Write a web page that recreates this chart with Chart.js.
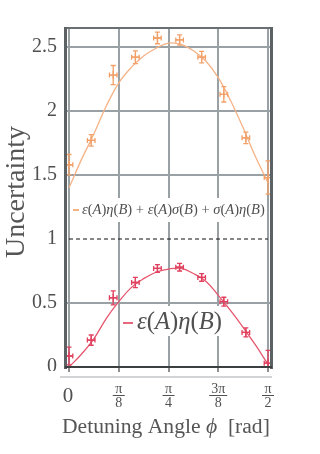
<!DOCTYPE html>
<html><head><meta charset="utf-8">
<script src="https://cdn.jsdelivr.net/npm/chart.js@4.4.1/dist/chart.umd.min.js"></script>
<style>html,body{margin:0;padding:0;background:#fff;}canvas{display:block;}</style>
</head><body>
<canvas id="c" width="320" height="454"></canvas>
<script>
// ---- data ----
const angles   = [0, 0.175, 0.349, 0.524, 0.698, 0.873, 1.047, 1.222, 1.396, 1.571];
const totalVals = [1.58, 1.77, 2.28, 2.42, 2.57, 2.555, 2.42, 2.13, 1.79, 1.48];
const totalErr  = [0.08, 0.045, 0.075, 0.05, 0.045, 0.04, 0.045, 0.06, 0.045, 0.13];
const etaVals   = [0.086, 0.21, 0.54, 0.66, 0.77, 0.78, 0.70, 0.51, 0.27, 0.03];
const etaErr    = [0.07, 0.04, 0.055, 0.04, 0.03, 0.03, 0.03, 0.035, 0.035, 0.10];
const angleErr  = 0.03;
const fitAngles = [0, 0.098, 0.196, 0.295, 0.393, 0.491, 0.589, 0.687, 0.785, 0.884, 0.982, 1.080, 1.178, 1.276, 1.374, 1.473, 1.571];
const totalFit  = [1.40, 1.62, 1.82, 2.04, 2.22, 2.34, 2.43, 2.49, 2.53, 2.52, 2.47, 2.39, 2.26, 2.08, 1.87, 1.64, 1.44];
const etaFit    = [0.00, 0.10, 0.22, 0.38, 0.51, 0.62, 0.69, 0.74, 0.765, 0.77, 0.73, 0.67, 0.56, 0.44, 0.31, 0.17, 0.02];
const xTickValues = [0, 0.3927, 0.7854, 1.1781, 1.5708];
const xTickNum = ['0', 'π', 'π', '3π', 'π'];
const xTickDen = ['', '8', '4', '8', '2'];
const yTickValues = [0, 0.5, 1, 1.5, 2, 2.5];
const yTickLabels = ['0', '0.5', '1', '1.5', '2', '2.5'];
const xTitle = [['Detuning Angle ', false], ['ϕ', true], ['  [rad]', false]];
const yTitle = 'Uncertainty';
const legendTotal = [['ε',1],['(',0],['A',1],[')',0],['η',1],['(',0],['B',1],[')',0],[' + ',0],
  ['ε',1],['(',0],['A',1],[')',0],['σ',1],['(',0],['B',1],[')',0],[' + ',0],
  ['σ',1],['(',0],['A',1],[')',0],['η',1],['(',0],['B',1],[')',0]];
const legendEta = [['ε',1],['(',0],['A',1],[')',0],['η',1],['(',0],['B',1],[')',0]];

const ORANGE = '#f2a068', ORANGE_L = '#f5b286', RED = '#e0405e', RED_L = '#e6566e';
const GRID = '#9aa1a5', TEXT = '#505050', SERIF = '"Liberation Serif", "DejaVu Serif", serif';

function segWidth(ctx, segs, size) {
  let w = 0;
  for (const [t, it] of segs) { ctx.font = (it ? 'italic ' : '') + size + 'px ' + SERIF; w += ctx.measureText(t).width; }
  return w;
}
function drawSegs(ctx, segs, x0, x1, y, baseSize) {
  const w = segWidth(ctx, segs, baseSize);
  const size = baseSize * (x1 - x0) / w;
  let x = x0;
  for (const [t, it] of segs) {
    ctx.font = (it ? 'italic ' : '') + size + 'px ' + SERIF;
    ctx.fillText(t, x, y);
    x += ctx.measureText(t).width;
  }
}

const decor = {
  id: 'decor',
  beforeDatasetsDraw(chart) {
    const ctx = chart.ctx, xs = chart.scales.x, ys = chart.scales.y;
    ctx.save();
    // legend backgrounds
    ctx.fillStyle = '#fff';
    ctx.fillRect(71, 198, 196, 24);
    ctx.fillRect(121, 306, 102, 30);
    // dashed line at 1
    ctx.strokeStyle = '#111'; ctx.lineWidth = 1.2; ctx.setLineDash([4, 3]);
    const y1 = ys.getPixelForValue(1);
    ctx.beginPath(); ctx.moveTo(xs.getPixelForValue(0), y1); ctx.lineTo(xs.getPixelForValue(1.5708), y1); ctx.stroke();
    ctx.restore();
  },
  afterDatasetsDraw(chart) {
    const ctx = chart.ctx, xs = chart.scales.x, ys = chart.scales.y, a = chart.chartArea;
    ctx.save();
    // error bars
    ctx.beginPath(); ctx.rect(a.left, a.top, a.right - a.left, a.bottom - a.top); ctx.clip();
    const series = [[totalVals, totalErr, ORANGE], [etaVals, etaErr, RED]];
    for (const [vals, errs, col] of series) {
      ctx.strokeStyle = col; ctx.lineWidth = 1.3;
      vals.forEach((v, i) => {
        const px = xs.getPixelForValue(angles[i]);
        const yt = ys.getPixelForValue(v + errs[i]), yb = ys.getPixelForValue(v - errs[i]);
        const xl = xs.getPixelForValue(angles[i] - angleErr), xr = xs.getPixelForValue(angles[i] + angleErr);
        const py = ys.getPixelForValue(v);
        ctx.beginPath();
        ctx.moveTo(px, yt); ctx.lineTo(px, yb);
        ctx.moveTo(px - 2.5, yt); ctx.lineTo(px + 2.5, yt);
        ctx.moveTo(px - 2.5, yb); ctx.lineTo(px + 2.5, yb);
        ctx.moveTo(xl, py); ctx.lineTo(xr, py);
        ctx.moveTo(xl, py - 2.5); ctx.lineTo(xl, py + 2.5);
        ctx.moveTo(xr, py - 2.5); ctx.lineTo(xr, py + 2.5);
        ctx.stroke();
      });
    }
    ctx.restore();
    ctx.save();
    // frame
    ctx.strokeStyle = '#6a7072'; ctx.lineWidth = 2;
    ctx.beginPath(); ctx.moveTo(a.left, a.top); ctx.lineTo(a.right, a.top); ctx.stroke();
    ctx.strokeStyle = '#5c6264'; ctx.lineWidth = 3;
    ctx.beginPath(); ctx.moveTo(a.left + 0.5, a.top - 1); ctx.lineTo(a.left + 0.5, a.bottom + 2);
    ctx.moveTo(a.right - 0.5, a.top - 1); ctx.lineTo(a.right - 0.5, a.bottom + 2); ctx.stroke();
    ctx.strokeStyle = '#3c3f40'; ctx.lineWidth = 2;
    ctx.beginPath(); ctx.moveTo(a.left, a.bottom); ctx.lineTo(a.right, a.bottom); ctx.stroke();
    // lower axis line
    ctx.strokeStyle = '#c4c6c7'; ctx.lineWidth = 1.5;
    ctx.beginPath(); ctx.moveTo(60, a.bottom + 10); ctx.lineTo(a.right, a.bottom + 10); ctx.stroke();
    // legends
    ctx.fillStyle = TEXT; ctx.textBaseline = 'middle'; ctx.textAlign = 'left';
    ctx.strokeStyle = ORANGE; ctx.lineWidth = 1.6;
    ctx.beginPath(); ctx.moveTo(73, 210); ctx.lineTo(79, 210); ctx.stroke();
    drawSegs(ctx, legendTotal, 82, 265, 210, 13);
    ctx.strokeStyle = RED;
    ctx.beginPath(); ctx.moveTo(123, 323); ctx.lineTo(133, 323); ctx.stroke();
    drawSegs(ctx, legendEta, 137, 222, 323, 19);
    // x tick labels
    ctx.textAlign = 'center';
    xTickValues.forEach((v, i) => {
      const px = xs.getPixelForValue(v);
      if (!xTickDen[i]) {
        ctx.font = '21px ' + SERIF; ctx.fillText(xTickNum[i], px - 1, 396);
      } else {
        ctx.font = '14px ' + SERIF;
        ctx.fillText(xTickNum[i], px, 389);
        ctx.fillText(xTickDen[i], px, 403);
        const hw = xTickNum[i].length > 1 ? 9 : 6;
        ctx.strokeStyle = TEXT; ctx.lineWidth = 1;
        ctx.beginPath(); ctx.moveTo(px - hw, 395.5); ctx.lineTo(px + hw, 395.5); ctx.stroke();
      }
    });
    // x title
    ctx.textAlign = 'left'; ctx.textBaseline = 'alphabetic'; ctx.fillStyle = '#555';
    drawSegs(ctx, xTitle, 62, 270, 433, 21);
    // y title
    ctx.save();
    ctx.translate(17, 192); ctx.rotate(-Math.PI / 2);
    ctx.textAlign = 'center'; ctx.textBaseline = 'middle';
    ctx.font = '28px ' + SERIF; ctx.fillText(yTitle, 0, 0);
    ctx.restore();
    // clip bottom of y "0" label
    ctx.fillStyle = '#fff'; ctx.fillRect(0, 371, 58, 5);
    ctx.restore();
  }
};

new Chart(document.getElementById('c'), {
  type: 'scatter',
  data: {
    datasets: [
      { data: fitAngles.map((x, i) => ({ x, y: totalFit[i] })), showLine: true, borderColor: ORANGE_L, borderWidth: 1.3, pointRadius: 0, tension: 0.4 },
      { data: fitAngles.map((x, i) => ({ x, y: etaFit[i] })), showLine: true, borderColor: RED_L, borderWidth: 1.3, pointRadius: 0, tension: 0.4 },
      { data: angles.map((x, i) => ({ x, y: totalVals[i] })), pointStyle: 'cross', pointRadius: 4, borderWidth: 1.3, borderColor: ORANGE, backgroundColor: ORANGE },
      { data: angles.map((x, i) => ({ x, y: etaVals[i] })), pointStyle: 'cross', pointRadius: 4, borderWidth: 1.3, borderColor: RED, backgroundColor: RED }
    ]
  },
  options: {
    responsive: false, animation: false, devicePixelRatio: 1,
    layout: { padding: { top: 28, right: 48, left: 0, bottom: 0 } },
    plugins: { legend: { display: false }, tooltip: { enabled: false } },
    scales: {
      x: {
        type: 'linear', min: -0.0316, max: 1.6024,
        afterBuildTicks: s => { s.ticks = xTickValues.map(v => ({ value: v })); },
        afterFit: s => { s.height = 87; },
        ticks: { display: false },
        border: { display: false },
        grid: { color: GRID, lineWidth: 2, drawTicks: true, tickLength: 5, tickColor: '#6a6a6a', tickWidth: 1.5 }
      },
      y: {
        type: 'linear', min: 0, max: 2.648,
        afterBuildTicks: s => { s.ticks = yTickValues.map(v => ({ value: v })); },
        afterFit: s => { s.width = 65; },
        ticks: { padding: 8, color: TEXT, font: { family: SERIF, size: 20 }, callback: (v, i) => yTickLabels[i] },
        border: { display: false },
        grid: { color: c => (c.tick && (c.tick.value === 1 || c.tick.value === 0)) ? 'rgba(0,0,0,0)' : GRID, lineWidth: 2, drawTicks: false }
      }
    }
  },
  plugins: [decor]
});
</script>
</body></html>
